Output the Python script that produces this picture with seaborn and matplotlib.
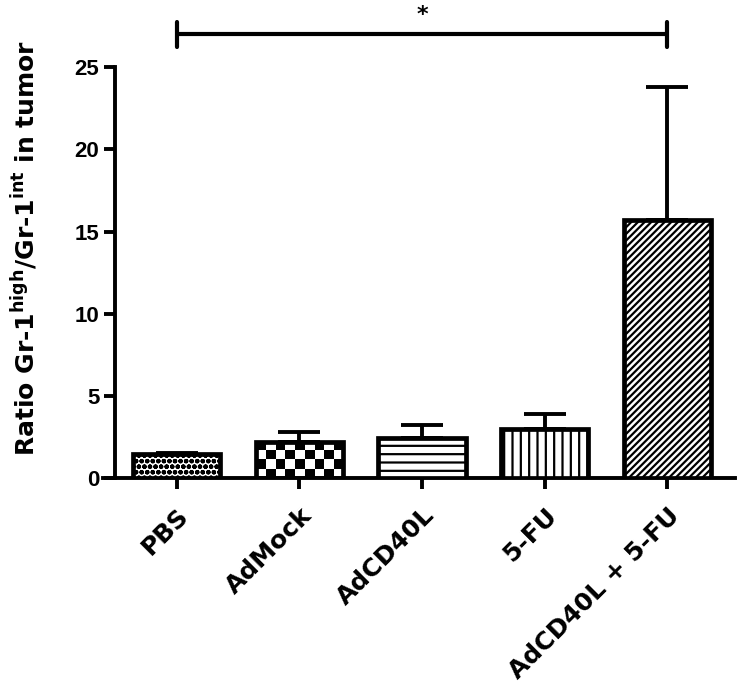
import numpy as np
import pandas as pd
import seaborn as sns
import matplotlib.pyplot as plt

# data
groups = ["PBS", "AdMock", "AdCD40L", "5-FU", "AdCD40L + 5-FU"]
means = [1.45, 2.2, 2.45, 3.0, 15.7]
sem = [0.1, 0.6, 0.8, 0.9, 8.1]
yticks = [0, 5, 10, 15, 20, 25]

sns.set_style("ticks")
plt.rcParams['font.family'] = ['DejaVu Sans']
plt.rcParams['font.weight'] = 'bold'
for k in ['text.color', 'axes.labelcolor', 'xtick.color', 'ytick.color', 'axes.edgecolor']:
    plt.rcParams[k] = 'black'
plt.rcParams['hatch.linewidth'] = 1.6
plt.rcParams['hatch.color'] = 'black'

df = pd.DataFrame({"group": groups, "ratio": means})

fig = plt.figure(figsize=(7.38, 6.94), dpi=100)
ax = fig.add_axes([0.1396, 0.311, 0.856, 0.592])

sns.barplot(data=df, x="group", y="ratio", color="white", width=0.71,
            edgecolor="black", linewidth=3.4, errorbar=None, ax=ax, zorder=3)

# upper-only error bars, drawn behind the bars
ax.errorbar(np.arange(len(groups)), means, yerr=[np.zeros(len(sem)), sem],
            fmt='none', ecolor='black', elinewidth=2.8, capsize=15,
            capthick=2.8, zorder=1)

hatches = ['ooo', None, '--', '||', '/////']
for p, h in zip(ax.patches, hatches):
    if h:
        p.set_hatch(h)

# checkerboard fill for AdMock
chk = ax.patches[1]
chk.set_facecolor('none')
bb = chk.get_bbox()
board = np.indices((4, 9)).sum(axis=0) % 2
im = ax.imshow(board, cmap='gray', extent=[bb.x0, bb.x1, bb.y0, bb.y1],
               aspect='auto', interpolation='nearest', zorder=2)
im.set_clip_path(chk)

# spines first: moving a spine resets the ticks
sns.despine(ax=ax)
ax.spines['left'].set_position(('data', -0.5))
for s in ['left', 'bottom']:
    ax.spines[s].set_linewidth(2.8)

ax.set_xlim(-0.6, 4.55)
ax.set_ylim(0, 25)
ax.set_yticks(yticks)
ax.set_yticklabels([str(t) for t in yticks], fontsize=16, fontweight='bold',
                   fontfamily=['Liberation Sans Narrow', 'Liberation Sans'])
ax.set_xticks(range(len(groups)))
ax.set_xticklabels(groups, fontsize=18, fontweight='bold', rotation=45,
                   ha='right', rotation_mode='anchor')
ax.tick_params(axis='both', width=2.8, length=8, direction='out')
ax.tick_params(axis='x', pad=10)
ax.set_xlabel("")
ax.set_ylabel(r"Ratio Gr-1$^{\mathbf{high}}$/Gr-1$^{\mathbf{int}}$ in tumor",
              fontsize=18, fontweight='bold')
ax.yaxis.set_label_coords(-0.1, 0.56)

# significance bracket
y_br = 27.0
ax.plot([0, 4], [y_br, y_br], color='black', lw=3, clip_on=False)
ax.plot([0, 0], [y_br - 0.75, y_br + 0.75], color='black', lw=3, clip_on=False)
ax.plot([4, 4], [y_br - 0.75, y_br + 0.75], color='black', lw=3, clip_on=False)
ax.text(2, y_br + 0.6, "*", ha='center', va='bottom', fontsize=16,
        fontweight='bold')

plt.savefig("out.png", dpi=100)
